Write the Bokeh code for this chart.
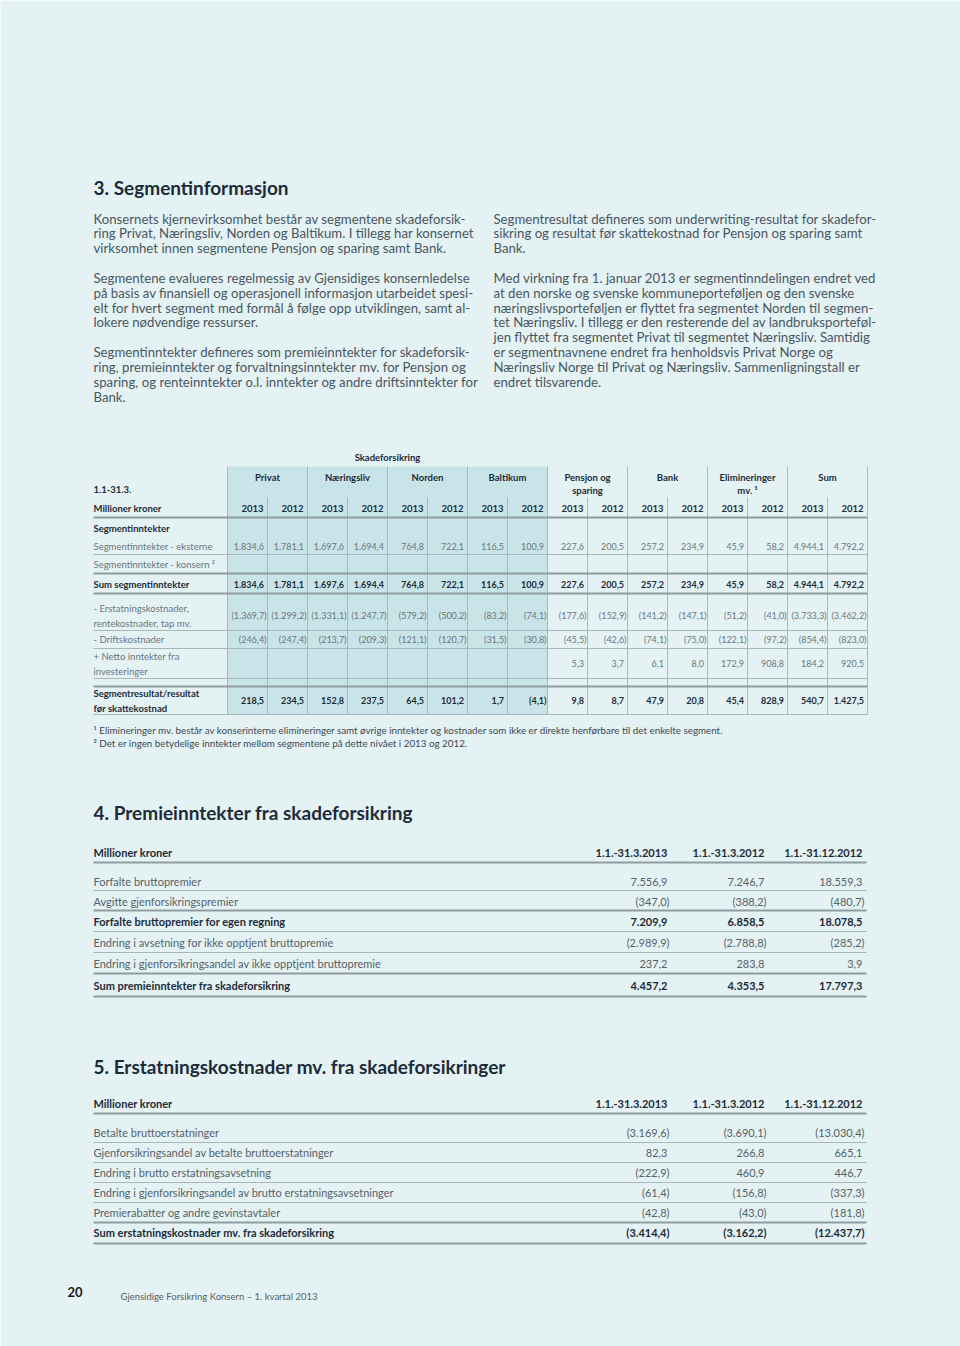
from bokeh.plotting import figure
from bokeh.models import Range1d
from bokeh.core.properties import value
from bokeh.embed import file_html
from bokeh.resources import INLINE

# ---------------- data ----------------
title3 = "3. Segmentinformasjon"
title4 = "4. Premieinntekter fra skadeforsikring"
title5 = "5. Erstatningskostnader mv. fra skadeforsikringer"

para_left = [
    ["Konsernets kjernevirksomhet består av segmentene skadeforsik-",
     "ring Privat, Næringsliv, Norden og Baltikum. I tillegg har konsernet",
     "virksomhet innen segmentene Pensjon og sparing samt Bank."],
    ["Segmentene evalueres regelmessig av Gjensidiges konsernledelse",
     "på basis av finansiell og operasjonell informasjon utarbeidet spesi-",
     "elt for hvert segment med formål å følge opp utviklingen, samt al-",
     "lokere nødvendige ressurser."],
    ["Segmentinntekter defineres som premieinntekter for skadeforsik-",
     "ring, premieinntekter og forvaltningsinntekter mv. for Pensjon og",
     "sparing, og renteinntekter o.l. inntekter og andre driftsinntekter for",
     "Bank."],
]
para_right = [
    ["Segmentresultat defineres som underwriting-resultat for skadefor-",
     "sikring og resultat før skattekostnad for Pensjon og sparing samt",
     "Bank."],
    ["Med virkning fra 1. januar 2013 er segmentinndelingen endret ved",
     "at den norske og svenske kommuneporteføljen og den svenske",
     "næringslivsporteføljen er flyttet fra segmentet Norden til segmen-",
     "tet Næringsliv. I tillegg er den resterende del av landbruksporteføl-",
     "jen flyttet fra segmentet Privat til segmentet Næringsliv. Samtidig",
     "er segmentnavnene endret fra henholdsvis Privat Norge og",
     "Næringsliv Norge til Privat og Næringsliv. Sammenligningstall er",
     "endret tilsvarende."],
]

seg_super = "Skadeforsikring"
seg_groups = ["Privat", "Næringsliv", "Norden", "Baltikum",
              "Pensjon og\nsparing", "Bank", "Elimineringer\nmv. ¹", "Sum"]
seg_years = ["2013", "2012"]
t3_period = "1.1-31.3."
t3_unit = "Millioner kroner"

t3_labels = ["Segmentinntekter", "Segmentinntekter - eksterne",
             "Segmentinntekter - konsern ²", "Sum segmentinntekter",
             "- Erstatningskostnader,\nrentekostnader, tap mv.",
             "- Driftskostnader", "+ Netto inntekter fra\ninvesteringer",
             "Segmentresultat/resultat\nfør skattekostnad"]
t3_bold = [True, False, False, True, False, False, False, True]

eksterne = [1834.6, 1781.1, 1697.6, 1694.4, 764.8, 722.1, 116.5, 100.9,
            227.6, 200.5, 257.2, 234.9, 45.9, 58.2, 4944.1, 4792.2]
sum_seg = [1834.6, 1781.1, 1697.6, 1694.4, 764.8, 722.1, 116.5, 100.9,
           227.6, 200.5, 257.2, 234.9, 45.9, 58.2, 4944.1, 4792.2]
erstatning = [-1369.7, -1299.2, -1331.1, -1247.7, -579.2, -500.2, -83.2, -74.1,
              -177.6, -152.9, -141.2, -147.1, -51.2, -41.0, -3733.3, -3462.2]
drift = [-246.4, -247.4, -213.7, -209.3, -121.1, -120.7, -31.5, -30.8,
         -45.5, -42.6, -74.1, -75.0, -122.1, -97.2, -854.4, -823.0]
netto = [None, None, None, None, None, None, None, None,
         5.3, 3.7, 6.1, 8.0, 172.9, 908.8, 184.2, 920.5]
resultat = [218.5, 234.5, 152.8, 237.5, 64.5, 101.2, 1.7, -4.1,
            9.8, 8.7, 47.9, 20.8, 45.4, 828.9, 540.7, 1427.5]
t3_values = [None, eksterne, None, sum_seg, erstatning, drift, netto, resultat]

footnotes = ["¹ Elimineringer mv. består av konserinterne elimineringer samt øvrige inntekter og kostnader som ikke er direkte henførbare til det enkelte segment.",
             "² Det er ingen betydelige inntekter mellom segmentene på dette nivået i 2013 og 2012."]

period_cols = ["1.1.-31.3.2013", "1.1.-31.3.2012", "1.1.-31.12.2012"]

t4_labels = ["Forfalte bruttopremier", "Avgitte gjenforsikringspremier",
             "Forfalte bruttopremier for egen regning",
             "Endring i avsetning for ikke opptjent bruttopremie",
             "Endring i gjenforsikringsandel av ikke opptjent bruttopremie",
             "Sum premieinntekter fra skadeforsikring"]
t4_q2013 = [7556.9, -347.0, 7209.9, -2989.9, 237.2, 4457.2]
t4_q2012 = [7246.7, -388.2, 6858.5, -2788.8, 283.8, 4353.5]
t4_y2012 = [18559.3, -480.7, 18078.5, -285.2, 3.9, 17797.3]
t4_bold = [False, False, True, False, False, True]

t5_labels = ["Betalte bruttoerstatninger",
             "Gjenforsikringsandel av betalte bruttoerstatninger",
             "Endring i brutto erstatningsavsetning",
             "Endring i gjenforsikringsandel av brutto erstatningsavsetninger",
             "Premierabatter og andre gevinstavtaler",
             "Sum erstatningskostnader mv. fra skadeforsikring"]
t5_q2013 = [-3169.6, 82.3, -222.9, -61.4, -42.8, -3414.4]
t5_q2012 = [-3690.1, 266.8, 460.9, -156.8, -43.0, -3162.2]
t5_y2012 = [-13030.4, 665.1, 446.7, -337.3, -181.8, -12437.7]
t5_bold = [False, False, False, False, False, True]

page_no = "20"
footer = "Gjensidige Forsikring Konsern – 1. kvartal 2013"

# ---------------- styles ----------------
BG = "#e4f2f4"
BLUE = "#c8e4e8"
NAVY = "#1d2b39"
BODY = "#4a5660"
GRAY = "#6b767d"
THICK = "#8f9ca0"
THIN = "#a9b7ba"
FONT = "Lato"


def fmt(v):
    if v is None:
        return ""
    s = f"{abs(v):,.1f}".replace(",", "X").replace(".", ",").replace("X", ".")
    return f"({s})" if v < 0 else s


W, H = 960, 1346
p = figure(width=W, height=H, x_range=Range1d(0, W), y_range=Range1d(H, 0),
           output_backend="svg", toolbar_location=None, min_border=0,
           x_axis_location=None, y_axis_location=None)
p.grid.visible = False
p.outline_line_color = None
p.background_fill_color = BG
p.border_fill_color = BG


def txt(xs, ys, texts, size, color, align="left", bold=False):
    p.text(x=xs, y=ys, text=texts, text_font=value(FONT),
           text_font_size=value(f"{size}px"), text_color=color,
           text_align=align, text_baseline="middle",
           text_font_style="bold" if bold else "normal")


def hlines(ys, x0, x1, width, color):
    p.segment(x0=[x0] * len(ys), x1=[x1] * len(ys), y0=ys, y1=ys,
              line_width=width, line_color=color)


# ---------------- section 3 text ----------------
txt([93], [187], [title3], 19, NAVY, bold=True)

LH = 14.85


def para(blocks, x0, y0):
    xs, ys, ts = [], [], []
    y = y0
    for blk in blocks:
        for line in blk:
            xs.append(x0); ys.append(y); ts.append(line)
            y += LH
        y += LH
    txt(xs, ys, ts, 13.2, BODY)


para(para_left, 93, 218)
para(para_right, 493, 218)

# ---------------- table 3 ----------------
T_LEFT, CW, NCOL = 227, 40, 16
T_TOP, T_BOT = 466, 714
col_left = [T_LEFT + CW * i for i in range(NCOL)]
p.quad(left=[T_LEFT], right=[T_LEFT + 8 * CW], top=[T_TOP], bottom=[T_BOT],
       fill_color=BLUE, line_color=None)

grp_x = [T_LEFT + 2 * CW * g for g in range(len(seg_groups) + 1)]
p.segment(x0=grp_x, x1=grp_x, y0=[T_TOP] * len(grp_x), y1=[T_BOT] * len(grp_x),
          line_width=1, line_color=THIN)
inner_x = [T_LEFT + 2 * CW * g + CW for g in range(len(seg_groups))]
p.segment(x0=inner_x, x1=inner_x, y0=[497] * len(inner_x), y1=[T_BOT] * len(inner_x),
          line_width=1, line_color=THIN)

hlines([517, 573, 593, 686], 93, T_LEFT + NCOL * CW, 2, THICK)
hlines([554, 630, 648, 678, 714], 93, T_LEFT + NCOL * CW, 1, THIN)

txt([T_LEFT + 4 * CW], [457], [seg_super], 9.5, NAVY, align="center", bold=True)
gx, gy, gt = [], [], []
for g, name in enumerate(seg_groups):
    for k, part in enumerate(name.split("\n")):
        gx.append(T_LEFT + 2 * CW * g + CW); gy.append(477 + 13 * k); gt.append(part)
txt(gx, gy, gt, 9.5, NAVY, align="center", bold=True)

txt([93], [489], [t3_period], 9.5, NAVY, bold=True)
txt([93], [508], [t3_unit], 9.5, NAVY, bold=True)
txt([c + CW - 4 for c in col_left], [508] * NCOL,
    [seg_years[i % 2] for i in range(NCOL)], 9.5, NAVY, align="right", bold=True)

row_y = [528, 546, 564, 584, 615, 639, 663, 700]
for lab, vals, bold, y in zip(t3_labels, t3_values, t3_bold, row_y):
    parts = lab.split("\n")
    if len(parts) == 1:
        ys = [y]
    else:
        ys = [y - 7.5, y + 7.5]
    col = NAVY if bold else GRAY
    txt([93] * len(parts), ys, parts, 9.5, col, bold=bold)
    if vals is not None:
        vx, vy, vt = [], [], []
        for i, v in enumerate(vals):
            if v is None:
                continue
            vx.append(col_left[i] + CW - (1 if v < 0 else 3.5))
            vy.append(y); vt.append(fmt(v))
        txt(vx, vy, vt, 9, col, align="right", bold=bold)

txt([93, 93], [729, 742], footnotes, 9.8, "#3d4852")

# ---------------- tables 4 and 5 ----------------
VAL_X = [667, 764, 862]


def simple_table(title, ty, hy, labels, c1, c2, c3, bolds, rows_y, thin_y, thick_y):
    txt([93], [ty], [title], 19, NAVY, bold=True)
    txt([93], [hy], [t3_unit], 11, NAVY, bold=True)
    txt(VAL_X, [hy] * 3, period_cols, 11, NAVY, align="right", bold=True)
    hlines(thick_y, 93, 866, 2, THICK)
    hlines(thin_y, 93, 866, 1, THIN)
    for lab, a, b, c, bold, y in zip(labels, c1, c2, c3, bolds, rows_y):
        col = NAVY if bold else "#566169"
        txt([93], [y], [lab], 11, col, bold=bold)
        vals = [a, b, c]
        txt([x + (2 if v < 0 else 0) for x, v in zip(VAL_X, vals)], [y] * 3,
            [fmt(v) for v in vals], 11, col, align="right", bold=bold)


simple_table(title4, 812, 852, t4_labels, t4_q2013, t4_q2012, t4_y2012, t4_bold,
             [881, 901, 921, 942, 963, 985], [890, 931, 952], [862, 910, 973, 996])
simple_table(title5, 1066, 1103, t5_labels, t5_q2013, t5_q2012, t5_y2012, t5_bold,
             [1132, 1152, 1172, 1192, 1212, 1232], [1142, 1162, 1182, 1202],
             [1113, 1222, 1243])

# ---------------- footer ----------------
txt([67], [1291], [page_no], 13, "#1a1a1a", bold=True)
txt([120], [1296], [footer], 9.5, "#56616a")

open("out.html", "w").write(file_html(p, INLINE))
